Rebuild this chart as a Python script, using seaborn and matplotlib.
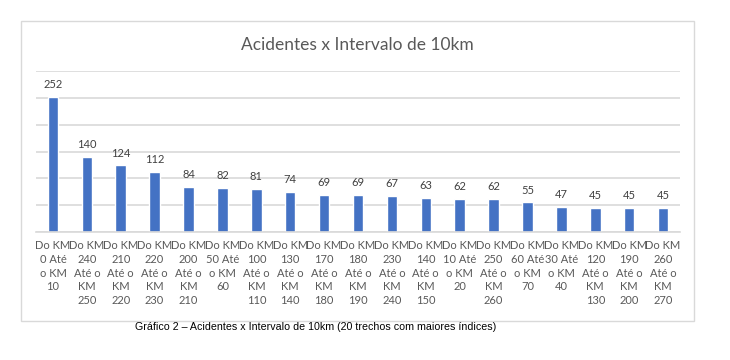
import matplotlib
matplotlib.use("Agg")
import matplotlib.pyplot as plt
import pandas as pd
import seaborn as sns
from matplotlib.patches import Rectangle

trechos = [
    "Do KM\n0 Até\no KM\n10",
    "Do KM\n240\nAté o\nKM\n250",
    "Do KM\n210\nAté o\nKM\n220",
    "Do KM\n220\nAté o\nKM\n230",
    "Do KM\n200\nAté o\nKM\n210",
    "Do KM\n50 Até\no KM\n60",
    "Do KM\n100\nAté o\nKM\n110",
    "Do KM\n130\nAté o\nKM\n140",
    "Do KM\n170\nAté o\nKM\n180",
    "Do KM\n180\nAté o\nKM\n190",
    "Do KM\n230\nAté o\nKM\n240",
    "Do KM\n140\nAté o\nKM\n150",
    "Do KM\n10 Até\no KM\n20",
    "Do KM\n250\nAté o\nKM\n260",
    "Do KM\n60 Até\no KM\n70",
    "Do KM\n30 Até\no KM\n40",
    "Do KM\n120\nAté o\nKM\n130",
    "Do KM\n190\nAté o\nKM\n200",
    "Do KM\n260\nAté o\nKM\n270",
]
acidentes = [252, 140, 124, 112, 84, 82, 81, 74, 69, 69, 67, 63, 62, 62, 55, 47, 45, 45, 45]

df = pd.DataFrame({"trecho": trechos, "acidentes": acidentes})

sns.set_style("white")
plt.rcParams["font.family"] = ["Lato", "DejaVu Sans"]

fig = plt.figure(figsize=(7.3, 3.6), dpi=100)
ax = fig.add_axes([36 / 730, 1 - 232 / 360, (680 - 36) / 730, (232 - 71) / 360])

sns.barplot(data=df, x="trecho", y="acidentes", color="#4472C4", width=0.31,
            saturation=1, ax=ax)

ax.set_ylim(0, 300)
ax.set_yticks(range(0, 301, 50))
ax.yaxis.grid(True, color="#d9d9d9", linewidth=1.2)
ax.set_axisbelow(True)
ax.set_yticklabels([])
ax.tick_params(axis="both", length=0)
ax.tick_params(axis="x", labelsize=8, labelcolor="#595959", pad=6)
for lbl in ax.get_xticklabels():
    lbl.set_linespacing(1.3)
for s in ["top", "right", "left"]:
    ax.spines[s].set_visible(False)
ax.spines["bottom"].set_color("#d9d9d9")
ax.spines["bottom"].set_linewidth(1.2)
ax.set_xlabel("")
ax.set_ylabel("")

# rótulos de valor em cima das barras
for c in ax.containers:
    ax.bar_label(c, padding=5, fontsize=8, color="#404040")

fig.text(357 / 730, 1 - 45 / 360, "Acidentes x Intervalo de 10km", ha="center",
         va="center", fontsize=12.5, color="#595959")
fig.text(135 / 730, 1 - 327 / 360,
         "Gráfico 2 – Acidentes x Intervalo de 10km (20 trechos com maiores índices)",
         ha="left", va="center", fontsize=7.65, color="black", family="Liberation Sans")

# moldura do gráfico
fig.patches.append(Rectangle((21 / 730, 1 - 321 / 360), (694 - 21) / 730, 300 / 360,
                             transform=fig.transFigure, fill=False,
                             edgecolor="#d9d9d9", linewidth=1))

fig.savefig("out.png", dpi=100)
